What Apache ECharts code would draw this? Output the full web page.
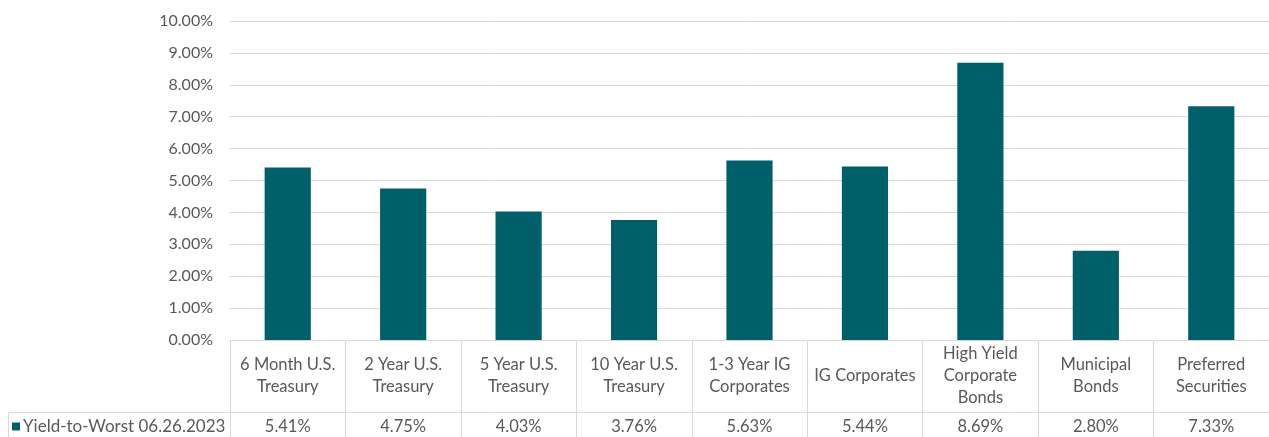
<!DOCTYPE html>
<html>
<head>
<meta charset="utf-8">
<script src="https://cdn.jsdelivr.net/npm/echarts@6/dist/echarts.min.js"></script>
<style>
  html, body { margin: 0; padding: 0; background: #ffffff; }
  #chart { width: 1269px; height: 437px; }
</style>
</head>
<body>
<div id="chart"></div>
<script>
const categories = [
  '6 Month U.S.\nTreasury',
  '2 Year U.S.\nTreasury',
  '5 Year U.S.\nTreasury',
  '10 Year U.S.\nTreasury',
  '1-3 Year IG\nCorporates',
  'IG Corporates',
  'High Yield\nCorporate\nBonds',
  'Municipal\nBonds',
  'Preferred\nSecurities'
];
const seriesName = 'Yield-to-Worst 06.26.2023';
const values = [5.41, 4.75, 4.03, 3.76, 5.63, 5.44, 8.69, 2.80, 7.33];
const yMin = 0, yMax = 10, yStep = 1;

const textColor = '#595959';
const lineColor = '#d9d9d9';
const font = 'Lato, "Open Sans", sans-serif';

const chart = echarts.init(document.getElementById('chart'));
chart.setOption({
  animation: false,
  textStyle: { fontFamily: font },
  grid: { left: 230, top: 21, width: 1050, height: 319, containLabel: false },
  legend: {
    data: [seriesName],
    left: 12, top: 418,
    icon: 'rect', itemWidth: 8, itemHeight: 8, itemGap: 0,
    padding: 0,
    textStyle: { fontSize: 17, color: textColor, fontFamily: font, padding: [0, 0, 0, -2] }
  },
  xAxis: [
    {
      type: 'category',
      data: categories,
      position: 'bottom',
      axisLine: { show: true, lineStyle: { color: lineColor, width: 1 } },
      axisTick: { show: true, length: 100, interval: 0, lineStyle: { color: lineColor } },
      axisLabel: {
        interval: 0, margin: 36, verticalAlign: 'middle', lineHeight: 22,
        fontSize: 16.5, color: textColor, fontFamily: font
      },
      splitLine: { show: false }
    },
    {
      type: 'category',
      data: values.map(v => v.toFixed(2) + '%'),
      position: 'bottom',
      offset: 72,
      axisLine: { show: true, lineStyle: { color: lineColor, width: 1 } },
      axisTick: { show: false },
      axisLabel: {
        interval: 0, margin: 15, verticalAlign: 'middle',
        fontSize: 16.5, color: textColor, fontFamily: font
      }
    }
  ],
  yAxis: {
    type: 'value',
    min: yMin, max: yMax, interval: yStep,
    axisLine: { show: false },
    axisTick: { show: false },
    axisLabel: {
      formatter: v => v.toFixed(2) + '%',
      fontSize: 16, color: textColor, margin: 17, fontFamily: font
    },
    splitLine: { lineStyle: { color: lineColor, width: 1 } }
  },
  graphic: [
    {
      type: 'polyline',
      shape: { points: [[8.5, 440], [8.5, 412.5], [230, 412.5]] },
      style: { stroke: lineColor, lineWidth: 1, fill: null },
      silent: true
    }
  ],
  series: [
    {
      name: seriesName,
      type: 'bar',
      xAxisIndex: 0,
      data: values,
      barWidth: '40%',
      itemStyle: { color: '#005F69' }
    }
  ]
});
</script>
</body>
</html>
